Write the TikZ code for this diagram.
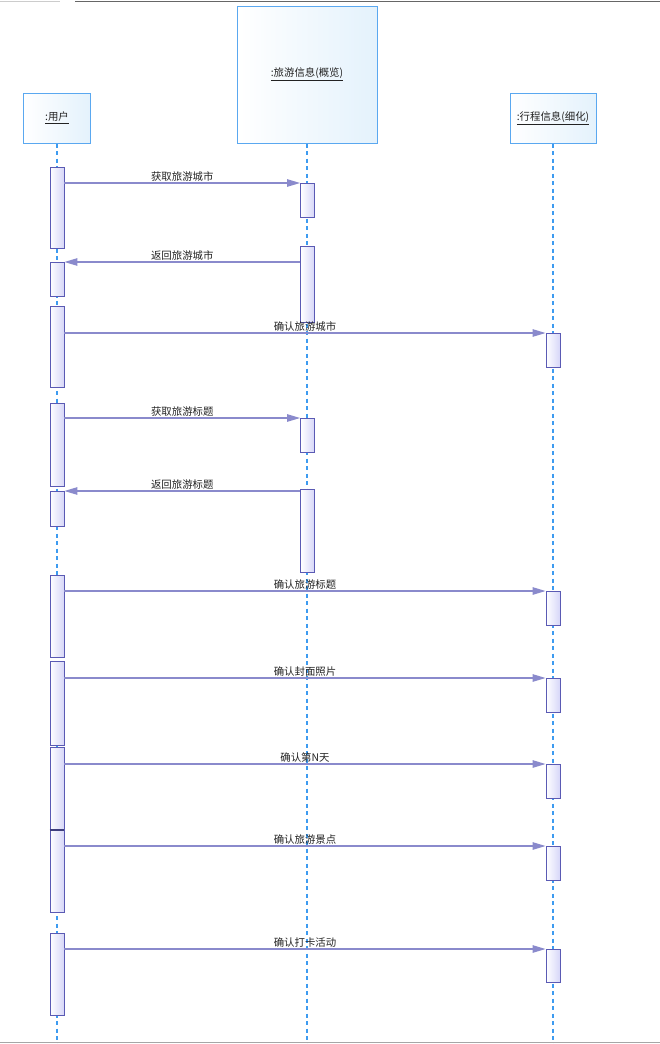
\documentclass[tikz,border=0pt]{standalone}
\usepackage{fontspec}
\setmainfont{Noto Sans CJK SC}
\usepackage{tikz}
\usetikzlibrary{arrows.meta}
\definecolor{lifeblue}{HTML}{3D9BF0}
\definecolor{objline}{HTML}{5AA8F0}
\definecolor{objfill}{HTML}{E4F2FC}
\definecolor{actline}{HTML}{5A5AB4}
\definecolor{actfill}{HTML}{D6D6F8}
\definecolor{msgline}{HTML}{8A8ACC}
\definecolor{txtgray}{HTML}{222222}

\begin{document}
\begin{tikzpicture}[
  x=1pt, y=-1pt,
  font=\fontsize{10.4}{12}\selectfont, text=txtgray,
  obj/.style={draw=objline, line width=1pt, left color=white, right color=objfill,
    inner sep=0pt},
  act/.style={draw=actline, line width=0.9pt, left color=white, right color=actfill,
    minimum width=14pt, inner sep=0pt, anchor=north},
  life/.style={draw=lifeblue, line width=1.5pt, dash pattern=on 4pt off 3.5pt},
  msg/.style={draw=msgline, line width=1.1pt,
    -{Triangle[length=13pt, width=7.5pt]}},
  lbl/.style={above, inner sep=1.5pt}
]
\useasboundingbox (0,0) rectangle (660,1044);
% window edges
\draw[gray!40, line width=1pt] (0,1) -- (60,1);
\draw[gray!80!black, line width=1.2pt] (75,1.5) -- (660,1.5);
\draw[gray!70, line width=1pt] (0,1042.5) -- (660,1042.5);

% objects
\node[obj, minimum width=67pt, minimum height=50pt] (usr) at (57,118) {\underline{:用户}};
\node[obj, minimum width=140pt, minimum height=137pt] (tour) at (307,74.5) {\underline{:旅游信息(概览)}};
\node[obj, minimum width=86pt, minimum height=50pt] (trip) at (553,118) {\underline{:行程信息(细化)}};
\coordinate (bot) at (0,1044);

% lifelines
\draw[life] (usr.south) -- (usr.south |- bot);
\draw[life] (tour.south) -- (tour.south |- bot);
\draw[life] (trip.south) -- (trip.south |- bot);

% activations: user
\node[act, minimum height=81pt] (ua1) at (57,167) {};
\node[act, minimum height=34pt] (ua2) at (57,262) {};
\node[act, minimum height=81pt] (ua3) at (57,306) {};
\node[act, minimum height=83pt] (ua4) at (57,403) {};
\node[act, minimum height=35pt] (ua5) at (57,491) {};
\node[act, minimum height=82pt] (ua6) at (57,575) {};
\node[act, minimum height=84pt] (ua7) at (57,661) {};
\node[act, minimum height=83pt] (ua8) at (57,747) {};
\node[act, minimum height=82pt] (ua9) at (57,830) {};
\node[act, minimum height=82pt] (ua10) at (57,933) {};
\draw[draw=actline!70!black, line width=1.6pt] (ua9.north west) -- (ua9.north east);

% activations: tour
\node[act, minimum height=34pt] (ta1) at (307.5,183) {};
\node[act, minimum height=76pt] (ta2) at (307.5,246) {};
\node[act, minimum height=34pt] (ta3) at (307.5,418) {};
\node[act, minimum height=83pt] (ta4) at (307.5,489) {};

% activations: trip
\node[act, minimum height=34pt] (ra1) at (553,333) {};
\node[act, minimum height=34pt] (ra2) at (553,591) {};
\node[act, minimum height=34pt] (ra3) at (553,678) {};
\node[act, minimum height=34pt] (ra4) at (553,764) {};
\node[act, minimum height=34pt] (ra5) at (553,846) {};
\node[act, minimum height=33pt] (ra6) at (553,949) {};

% messages
\draw[msg] (ua1.east |- ta1.north west) -- node[lbl] {获取旅游城市} (ta1.north west);
\draw[msg] (ta2.west |- ua2.north east) -- node[lbl] {返回旅游城市} (ua2.north east);
\draw[msg] (ua3.east |- ra1.north west) -- node[lbl] {确认旅游城市} (ra1.north west);
\draw[msg] (ua4.east |- ta3.north west) -- node[lbl] {获取旅游标题} (ta3.north west);
\draw[msg] (ta4.west |- ua5.north east) -- node[lbl] {返回旅游标题} (ua5.north east);
\draw[msg] (ua6.east |- ra2.north west) -- node[lbl] {确认旅游标题} (ra2.north west);
\draw[msg] (ua7.east |- ra3.north west) -- node[lbl] {确认封面照片} (ra3.north west);
\draw[msg] (ua8.east |- ra4.north west) -- node[lbl] {确认第N天} (ra4.north west);
\draw[msg] (ua9.east |- ra5.north west) -- node[lbl] {确认旅游景点} (ra5.north west);
\draw[msg] (ua10.east |- ra6.north west) -- node[lbl] {确认打卡活动} (ra6.north west);
\end{tikzpicture}
\end{document}
